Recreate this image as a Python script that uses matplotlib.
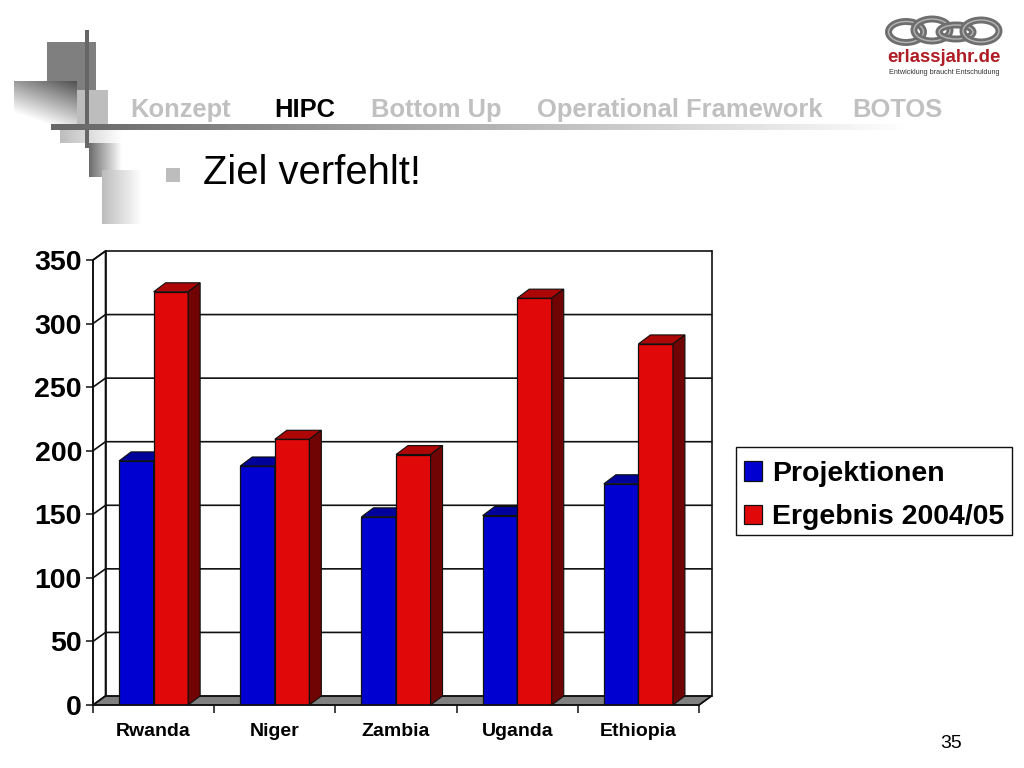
# -*- coding: utf-8 -*-
import numpy as np
import matplotlib
matplotlib.use("Agg")
import matplotlib.pyplot as plt
from matplotlib.patches import Polygon, Rectangle, Ellipse

plt.rcParams['font.family'] = ['Liberation Sans', 'DejaVu Sans']

# donnees
pays = ["Rwanda", "Niger", "Zambia", "Uganda", "Ethiopia"]
projektionen = [192, 188, 148, 149, 174]
ergebnis = [325, 209, 197, 320, 284]
y_ticks = [0, 50, 100, 150, 200, 250, 300, 350]
legende = ["Projektionen", "Ergebnis 2004/05"]
nav = ["Konzept", "HIPC", "Bottom Up", "Operational Framework", "BOTOS"]
titre = "Ziel verfehlt!"

W, H = 1024, 768
fig = plt.figure(figsize=(W / 100, H / 100), dpi=100)

# fond de la diapo, en pixels
bg = fig.add_axes([0, 0, 1, 1])
bg.set_xlim(0, W)
bg.set_ylim(H, 0)
bg.axis('off')


def degrade(x0, x1, y0, y1, gris0, gris1, z=2):
    """ rectangle en degrade de gris, de gauche a droite """
    g = np.linspace(gris0, gris1, 64)[None, :]
    bg.imshow(g, extent=[x0, x1, y1, y0], cmap='gray', vmin=0, vmax=1,
              aspect='auto', interpolation='bilinear', zorder=z)


bg.add_patch(Rectangle((47, 42), 49, 50, fc='#7f7f7f', ec='none', zorder=1))

# carre sombre en haut a droite, blanc en bas a gauche
t = np.linspace(0, 1, 64)
carre = np.clip(0.32 + 0.68 * (0.42 * t[::-1][None, :] + 0.9 * t[:, None]), 0, 1)
bg.imshow(carre, extent=[14, 77, 130, 81], cmap='gray', vmin=0, vmax=1,
          aspect='auto', interpolation='bilinear', zorder=2)

bg.add_patch(Rectangle((77, 90), 31, 34, fc='#bdbdbd', ec='none', zorder=3))
degrade(60, 122, 130, 143, 0.74, 1.0)
degrade(89, 122, 143, 177, 0.42, 1.0)
degrade(102, 142, 170, 224, 0.74, 1.0)
bg.add_patch(Rectangle((85, 30), 4, 118, fc='#666666', ec='none', zorder=5))
degrade(51, 920, 124, 130, 0.40, 1.0, z=5)

bg.add_patch(Rectangle((166, 168), 14, 14, fc='#bdbdbd', ec='none', zorder=6))

nav_x = [130, 274, 371, 537, 852]
for i in range(len(nav)):
    bg.text(nav_x[i], 110, nav[i], fontsize=18.4, fontweight='bold',
            color='black' if nav[i] == "HIPC" else '#c0c0c0', va='center', zorder=6)
bg.text(203, 173, titre, fontsize=28.8, color='black', va='center', zorder=6)
bg.text(951, 744, "35", fontsize=14, color='black', ha='center', va='center')

# logo
for cx, cy, w, h in [(906, 32, 35, 21), (932, 30, 36, 22), (956, 32, 34, 14), (981, 31, 36, 22)]:
    bg.add_patch(Ellipse((cx, cy), w, h, fc='none', ec='#6e6e6e', lw=5, zorder=6))
    bg.add_patch(Ellipse((cx, cy), w, h, fc='none', ec='#b5b5b5', lw=1, zorder=6))
bg.text(944, 58, "erlassjahr.de", fontsize=13.4, fontweight='bold', color='#b01c24',
        ha='center', va='center', zorder=6)
bg.text(944, 72.5, "Entwicklung braucht Entschuldung", fontsize=5.2, color='#333333',
        ha='center', va='center', zorder=6)

# cadre de la legende
trait = '#101010'
bg.add_patch(Rectangle((735.5, 446.5), 276, 88, fc='white', ec=trait, lw=1, zorder=6))

# graphique : echelles = categories 0..5, valeurs 0..350
x0, x1, y_bas, y_haut = 93, 699, 705, 260
ax = fig.add_axes([x0 / W, 1 - y_bas / H, (x1 - x0) / W, (y_bas - y_haut) / H])
ax.set_xlim(0, len(pays))
ax.set_ylim(0, 350)
ax.patch.set_alpha(0)
for s in ax.spines.values():
    s.set_visible(False)

dx = 12.5 / ((x1 - x0) / len(pays))
dy = 9 / ((y_bas - y_haut) / 350)
larg = 0.285
ep = 12 / ((x1 - x0) / len(pays))

bleu, bleu_h, bleu_c = '#0000d0', '#00009a', '#000080'
rouge, rouge_h, rouge_c = '#e00808', '#ac0606', '#700404'

# mur du fond, sol, grille
ax.add_patch(Polygon([[0, 0], [dx, dy], [dx, 350 + dy], [0, 350]], closed=True,
                     fc='white', ec=trait, lw=1.2, clip_on=False, zorder=1))
ax.add_patch(Polygon([[0, 0], [len(pays), 0], [len(pays) + dx, dy], [dx, dy]], closed=True,
                     fc='#808080', ec=trait, lw=1, clip_on=False, zorder=1))
for v in y_ticks:
    ax.plot([0, dx, len(pays) + dx], [v, v + dy, v + dy], color=trait, lw=1.2,
            clip_on=False, zorder=1.5)
ax.plot([dx, dx], [0 + dy, 350 + dy], color=trait, lw=1.2, clip_on=False, zorder=1.5)
ax.plot([len(pays) + dx] * 2, [dy, 350 + dy], color=trait, lw=1.2, clip_on=False, zorder=1.5)
ax.plot([len(pays), len(pays) + dx], [0, dy], color=trait, lw=1.2, clip_on=False, zorder=1.5)


def barre(xg, v, face, haut, cote, z):
    ax.bar(xg, v, larg, align='edge', color=face, edgecolor=trait, linewidth=0.9, zorder=z)
    xd = xg + larg
    ax.add_patch(Polygon([[xg, v], [xd, v], [xd + ep, v + dy], [xg + ep, v + dy]], closed=True,
                         fc=haut, ec=trait, lw=0.8, clip_on=False, zorder=z))
    ax.add_patch(Polygon([[xd, 0], [xd + ep, dy], [xd + ep, v + dy], [xd, v]], closed=True,
                         fc=cote, ec=trait, lw=0.8, clip_on=False, zorder=z))


pos = np.arange(len(pays))
for i in pos:
    barre(i + 0.5 - larg, projektionen[i], bleu, bleu_h, bleu_c, 3)
    barre(i + 0.5, ergebnis[i], rouge, rouge_h, rouge_c, 4)

ax.set_yticks(y_ticks)
ax.set_yticklabels([str(v) for v in y_ticks], fontsize=20.5, fontweight='bold')
ax.set_xticks(np.arange(len(pays) + 1))
ax.set_xticklabels([])
ax.set_xticks(pos + 0.5, minor=True)
ax.set_xticklabels(pays, minor=True, fontsize=14, fontweight='bold')
ax.tick_params(axis='x', which='minor', length=0, pad=13)
ax.tick_params(axis='x', which='major', length=6, width=1.1, color=trait, direction='out')
ax.tick_params(axis='y', length=5, width=1.1, color=trait, pad=3)
for cote in ['left', 'bottom']:
    ax.spines[cote].set_visible(True)
    ax.spines[cote].set_color(trait)
    ax.spines[cote].set_linewidth(1.2)
    ax.spines[cote].set_zorder(6)

poignees = [Rectangle((0, 0), 1, 1, fc=bleu, ec=trait, lw=0.9),
            Rectangle((0, 0), 1, 1, fc=rouge, ec=trait, lw=0.9)]
leg = fig.legend(poignees, legende, loc='lower left',
                 bbox_to_anchor=(735 / W, 1 - 539 / H, 277 / W, 88.5 / H), mode='expand',
                 prop={'size': 20.5, 'weight': 'bold'}, frameon=False,
                 handlelength=0.65, handleheight=0.7, handletextpad=0.35,
                 borderpad=0.3, labelspacing=0.63, borderaxespad=0)

fig.savefig("out.png", dpi=100)
